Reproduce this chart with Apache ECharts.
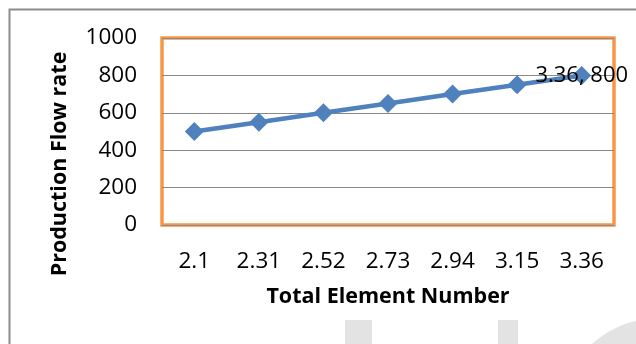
<!DOCTYPE html>
<html><head><meta charset="utf-8">
<script src="https://cdn.jsdelivr.net/npm/echarts@6/dist/echarts.min.js"></script>
<style>html,body{margin:0;padding:0;background:#fff}#c{width:636px;height:344px}</style>
</head><body><div id="c"></div>
<script>
const categories = ['2.1','2.31','2.52','2.73','2.94','3.15','3.36'];
const flowRate = [500, 550, 600, 650, 700, 750, 800];
const yTicks = [0, 200, 400, 600, 800, 1000];
const xTitle = 'Total Element Number';
const yTitle = 'Production Flow rate';
const lastLabel = categories[categories.length-1] + ', ' + flowRate[flowRate.length-1];

const chart = echarts.init(document.getElementById('c'));
const font = 'Open Sans';
chart.setOption({
  animation: false,
  backgroundColor: '#fff',
  grid: {left: 162, top: 38, right: 22, bottom: 119, show: true, borderColor: '#F79646', borderWidth: 3.5, backgroundColor: 'transparent'},
  xAxis: {
    type: 'category', data: categories, boundaryGap: true,
    axisLine: {show: false}, axisTick: {show: false},
    axisLabel: {color: '#000', fontFamily: font, fontSize: 22.5, margin: 25},
    name: xTitle, nameLocation: 'middle', nameGap: 61,
    nameTextStyle: {color: '#000', fontFamily: font, fontSize: 21.5, fontWeight: 'bold'}
  },
  yAxis: {
    type: 'value', min: yTicks[0], max: yTicks[yTicks.length-1], interval: yTicks[1]-yTicks[0],
    axisLine: {show: false}, axisTick: {show: false},
    axisLabel: {color: '#000', fontFamily: font, fontSize: 22.5, margin: 25, formatter: function(v){ return String(v); }},
    splitLine: {lineStyle: {color: '#8a8a8a', width: 1}}
  },
  graphic: [
    {type: 'rect', shape: {x: 9.5, y: 9.5, width: 700, height: 400}, style: {fill: 'none', stroke: '#8c8c8c', lineWidth: 2}, z: -1},
    {type: 'rect', shape: {x: 345, y: 320, width: 27, height: 30}, style: {fill: '#e3e3e3'}, z: -1},
    {type: 'rect', shape: {x: 498, y: 320, width: 20, height: 30}, style: {fill: '#e3e3e3'}, z: -1},
    {type: 'arc', shape: {cx: 660, cy: 420, r: 90, startAngle: Math.PI*1.05, endAngle: Math.PI*1.6}, style: {stroke: '#e3e3e3', lineWidth: 24, fill: 'none'}, z: -1},
    {type: 'text', x: 60, y: 164, rotation: Math.PI/2,
     style: {text: yTitle, fill: '#000', font: 'bold 21.5px "Open Sans"', align: 'center', verticalAlign: 'middle'}}
  ],
  series: [{
    type: 'line', data: flowRate,
    symbol: 'diamond', symbolSize: 19,
    lineStyle: {color: '#4F81BD', width: 4.5},
    itemStyle: {color: '#4F81BD'},
    label: {show: true, position: 'inside', color: '#000', fontFamily: font, fontSize: 22,
      formatter: function(p){ return p.dataIndex === flowRate.length-1 ? lastLabel : ''; }}
  }]
});
</script></body></html>
